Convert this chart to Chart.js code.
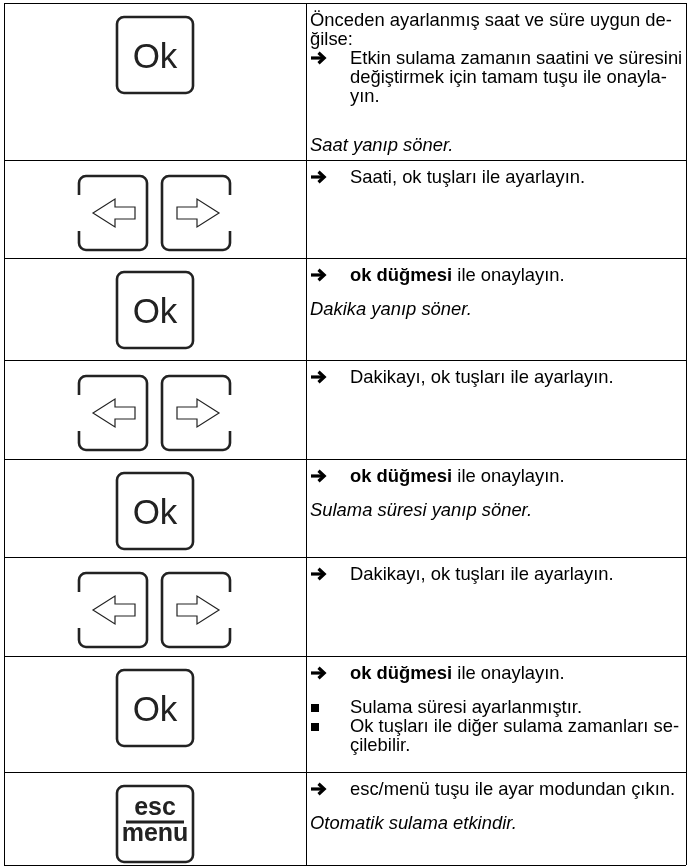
<!DOCTYPE html>
<html lang="tr">
<head>
<meta charset="utf-8">
<script src="https://cdn.jsdelivr.net/npm/chart.js@4.4.1/dist/chart.umd.min.js"></script>
<style>
  html, body { margin: 0; padding: 0; background: #fff; }
  #wrap { position: relative; width: 692px; height: 867px; overflow: hidden; }
  #grid { position: absolute; left: 0; top: 0; }
  .cell { position: absolute; font-family: "Liberation Sans", Arial, sans-serif; font-size: 18.4px; line-height: 19px; color: #000; white-space: nowrap; }
  .p { position: relative; }
  .p.mk { padding-left: 40px; }
  .p i { font-style: italic; }
  .marker { position: absolute; left: 0; top: 0; height: 19px; display: flex; align-items: center; }
  .icon { position: absolute; }
</style>
</head>
<body>
<div id="wrap">
  <canvas id="grid" width="692" height="867"></canvas>
</div>
<script>
// ---- content of the table (one entry per row) ----
const keyIcons = ['ok', 'arrows', 'ok', 'arrows', 'ok', 'arrows', 'ok', 'esc'];

const rowParagraphs = [
  [
    { kind: 'plain', text: 'Önceden ayarlanmış saat ve süre uygun de-<br>ğilse:' },
    { kind: 'arrow', text: 'Etkin sulama zamanın saatini ve süresini<br>değiştirmek için tamam tuşu ile onayla-<br>yın.' },
    { kind: 'italic', text: 'Saat yanıp söner.', gap: 30 }
  ],
  [
    { kind: 'arrow', text: 'Saati, ok tuşları ile ayarlayın.' }
  ],
  [
    { kind: 'arrow', text: '<b>ok düğmesi</b> ile onaylayın.' },
    { kind: 'italic', text: 'Dakika yanıp söner.', gap: 15 }
  ],
  [
    { kind: 'arrow', text: 'Dakikayı, ok tuşları ile ayarlayın.' }
  ],
  [
    { kind: 'arrow', text: '<b>ok düğmesi</b> ile onaylayın.' },
    { kind: 'italic', text: 'Sulama süresi yanıp söner.', gap: 15 }
  ],
  [
    { kind: 'arrow', text: 'Dakikayı, ok tuşları ile ayarlayın.' }
  ],
  [
    { kind: 'arrow', text: '<b>ok düğmesi</b> ile onaylayın.' },
    { kind: 'bullet', text: 'Sulama süresi ayarlanmıştır.', gap: 15 },
    { kind: 'bullet', text: 'Ok tuşları ile diğer sulama zamanları se-<br>çilebilir.' }
  ],
  [
    { kind: 'arrow', text: 'esc/menü tuşu ile ayar modundan çıkın.' },
    { kind: 'italic', text: 'Otomatik sulama etkindir.', gap: 15 }
  ]
];

// ---- table layout (pixel frame of the table) ----
const layout = {
  colEdges: [4, 306, 686],
  rowEdges: [3, 160, 258, 360, 459, 557, 656, 772, 865]
};

// Table rules drawn by Chart.js grid lines
const cE = layout.colEdges, rE = layout.rowEdges;
const chart = new Chart(document.getElementById('grid'), {
  type: 'scatter',
  data: { datasets: [] },
  options: {
    responsive: false,
    animation: false,
    devicePixelRatio: 1,
    events: [],
    layout: { padding: { left: cE[0], right: 692 - cE[cE.length - 1], top: rE[0], bottom: 867 - rE[rE.length - 1] } },
    plugins: { legend: { display: false }, tooltip: { enabled: false } },
    scales: {
      x: {
        type: 'linear', min: cE[0], max: cE[cE.length - 1],
        border: { display: false },
        ticks: { display: false },
        grid: { color: '#000', lineWidth: 1, drawTicks: false },
        afterBuildTicks: s => { s.ticks = cE.map(v => ({ value: v })); }
      },
      y: {
        type: 'linear', reverse: true, min: rE[0], max: rE[rE.length - 1],
        border: { display: false },
        ticks: { display: false },
        grid: { color: '#000', lineWidth: 1, drawTicks: false },
        afterBuildTicks: s => { s.ticks = rE.map(v => ({ value: v })); }
      }
    }
  }
});

// ---- key icons ----
const INK = '#222';
function okIcon() {
  return `<svg width="80" height="80" viewBox="0 0 80 80">
    <rect x="2" y="2" width="76" height="76" rx="7" ry="7" fill="none" stroke="${INK}" stroke-width="2.6"/>
    <text x="40" y="53" text-anchor="middle" font-family="Liberation Sans, Arial, sans-serif" font-size="35" fill="${INK}">Ok</text>
  </svg>`;
}
function escIcon() {
  return `<svg width="80" height="80" viewBox="0 0 80 80">
    <rect x="2" y="2" width="76" height="76" rx="7" ry="7" fill="none" stroke="${INK}" stroke-width="2.6"/>
    <text x="40" y="31" text-anchor="middle" font-family="Liberation Sans, Arial, sans-serif" font-weight="bold" font-size="25" fill="${INK}">esc</text>
    <line x1="11" y1="38" x2="69" y2="38" stroke="${INK}" stroke-width="3"/>
    <text x="40" y="57" text-anchor="middle" font-family="Liberation Sans, Arial, sans-serif" font-weight="bold" font-size="25" fill="${INK}">menu</text>
  </svg>`;
}
function arrowsIcon() {
  const r = 7, seg = 19, y0 = 2, y1 = 76;
  const lx0 = 4, lx1 = 72, rx0 = 87, rx1 = 155;
  const cy = (y0 + y1) / 2;
  const left = `M${lx0} ${y0 + seg} V${y0 + r} A${r} ${r} 0 0 1 ${lx0 + r} ${y0} H${lx1 - r} A${r} ${r} 0 0 1 ${lx1} ${y0 + r} V${y1 - r} A${r} ${r} 0 0 1 ${lx1 - r} ${y1} H${lx0 + r} A${r} ${r} 0 0 1 ${lx0} ${y1 - r} V${y1 - seg}`;
  const right = `M${rx1} ${y0 + seg} V${y0 + r} A${r} ${r} 0 0 0 ${rx1 - r} ${y0} H${rx0 + r} A${r} ${r} 0 0 0 ${rx0} ${y0 + r} V${y1 - r} A${r} ${r} 0 0 0 ${rx0 + r} ${y1} H${rx1 - r} A${r} ${r} 0 0 0 ${rx1} ${y1 - r} V${y1 - seg}`;
  const la = [[lx0 + 14, cy], [lx0 + 36, cy - 14], [lx0 + 36, cy - 6], [lx0 + 56, cy - 6], [lx0 + 56, cy + 6], [lx0 + 36, cy + 6], [lx0 + 36, cy + 14]];
  const ra = [[rx0 + 57, cy], [rx0 + 35, cy - 14], [rx0 + 35, cy - 6], [rx0 + 15, cy - 6], [rx0 + 15, cy + 6], [rx0 + 35, cy + 6], [rx0 + 35, cy + 14]];
  const pts = a => a.map(p => p.join(',')).join(' ');
  return `<svg width="160" height="80" viewBox="0 0 160 80">
    <path d="${left}" fill="none" stroke="${INK}" stroke-width="2.6"/>
    <path d="${right}" fill="none" stroke="${INK}" stroke-width="2.6"/>
    <polygon points="${pts(la)}" fill="#fff" stroke="${INK}" stroke-width="1.2" stroke-linejoin="miter"/>
    <polygon points="${pts(ra)}" fill="#fff" stroke="${INK}" stroke-width="1.2" stroke-linejoin="miter"/>
  </svg>`;
}
const arrowMarker = `<svg width="17" height="14" viewBox="0 0 17 14"><path d="M1 7 H14" stroke="#000" stroke-width="3.2"/><path d="M8.5 1.8 L14.2 7 L8.5 12.2" fill="none" stroke="#000" stroke-width="3.2" stroke-linejoin="miter"/></svg>`;
const bulletMarker = `<span style="display:inline-block;width:8px;height:8px;background:#000;margin-left:1px;margin-top:3px"></span>`;

// ---- build rows ----
const wrap = document.getElementById('wrap');
const ys = chart.scales.y, xs = chart.scales.x;
keyIcons.forEach((k, i) => {
  const top = ys.getPixelForValue(rE[i]);
  const midX = (xs.getPixelForValue(cE[0]) + xs.getPixelForValue(cE[1])) / 2;
  const ic = document.createElement('div');
  ic.className = 'icon';
  if (k === 'arrows') {
    ic.style.left = (midX - 80) + 'px';
    ic.style.top = (top + 14) + 'px';
    ic.innerHTML = arrowsIcon();
  } else {
    ic.style.left = (midX - 40) + 'px';
    ic.style.top = (top + 12) + 'px';
    ic.innerHTML = k === 'ok' ? okIcon() : escIcon();
  }
  wrap.appendChild(ic);

  const cell = document.createElement('div');
  cell.className = 'cell';
  cell.style.left = (xs.getPixelForValue(cE[1]) + 4) + 'px';
  cell.style.top = (top + 7) + 'px';
  rowParagraphs[i].forEach(p => {
    const d = document.createElement('div');
    d.className = 'p' + (p.kind === 'arrow' || p.kind === 'bullet' ? ' mk' : '');
    if (p.gap) d.style.marginTop = p.gap + 'px';
    let html = p.kind === 'italic' ? `<i>${p.text}</i>` : p.text;
    if (p.kind === 'arrow') html = `<span class="marker">${arrowMarker}</span>` + html;
    if (p.kind === 'bullet') html = `<span class="marker">${bulletMarker}</span>` + html;
    d.innerHTML = html;
    cell.appendChild(d);
  });
  wrap.appendChild(cell);
});
</script>
</body>
</html>
